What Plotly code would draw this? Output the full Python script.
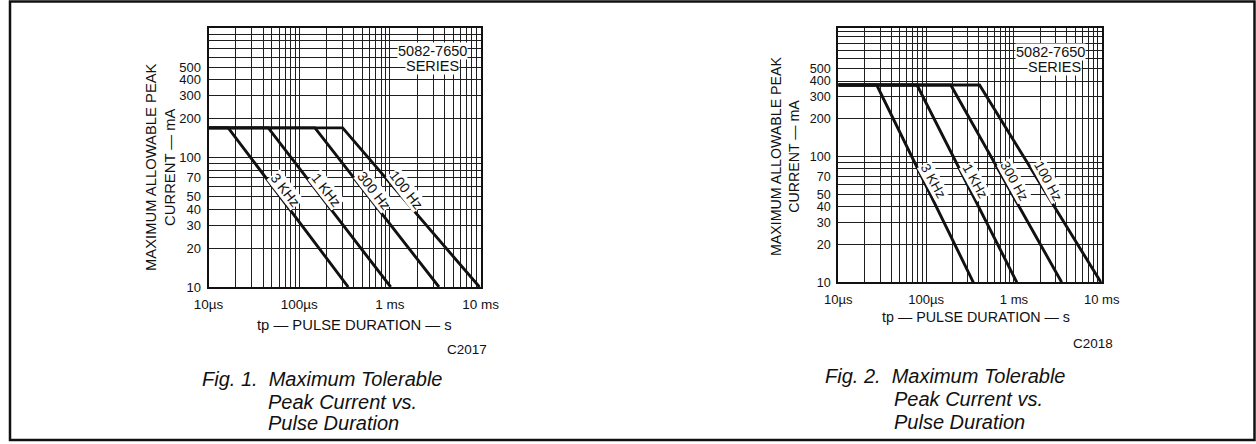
import math
import plotly.graph_objects as go

# ---------------- data ----------------
# pulse duration in microseconds, peak current in mA
series_names = ["3 KHz", "1 KHz", "300 Hz", "100 Hz"]

fig1_level = 170.0
fig1_corner_us = [16.5, 45.6, 149.0, 301.0]
fig1_end_us = [347.0, 1019.0, 3470.0, 9700.0]

fig2_level = 372.0
fig2_corner_us = [27.4, 78.8, 191.0, 406.0]
fig2_end_us = [345.0, 1080.0, 3500.0, 9800.0]

start_us = 10.0
floor_ma = 10.0

x_grid = [m * 10 ** d for d in (1, 2, 3) for m in range(1, 10)] + [10000]
x_labels = {10: "10µs", 100: "100µs", 1000: "1 ms", 10000: "10 ms"}
y_grid = [m * 10 ** d for d in (1, 2) for m in range(1, 10)] + [1000]
y_labels = [10, 20, 30, 40, 50, 70, 100, 200, 300, 400, 500]

W, H = 1256, 444
FONT = "Liberation Sans, Arial, Helvetica, sans-serif"
INK = "#111111"


def px(x):
    return x / W


def py(y):
    return 1 - y / H


fig = go.Figure()

charts = [
    dict(xa="x", ya="y", level=fig1_level, corners=fig1_corner_us, ends=fig1_end_us,
         xdom=[208.5, 480.7], ydom=[287.0, 28.3], yr=[1, 3.0], angle=52, lab_level=56,
         shift=10, scale=1.0),
    dict(xa="x2", ya="y2", level=fig2_level, corners=fig2_corner_us, ends=fig2_end_us,
         xdom=[838.3, 1101.7], ydom=[282.3, 28.3], yr=[1, 3.022], angle=61, lab_level=64,
         shift=10, scale=0.97),
]

annotations = []
for ci, c in enumerate(charts):
    for name, corner, end in zip(series_names, c["corners"], c["ends"]):
        fig.add_trace(go.Scatter(
            x=[start_us, corner, end], y=[c["level"], c["level"], floor_ma],
            mode="lines", line=dict(color=INK, width=2.9), xaxis=c["xa"], yaxis=c["ya"],
            showlegend=False, hoverinfo="skip", name=name))
        # label position on the sloped segment
        lc, le = math.log10(corner), math.log10(end)
        f = (math.log10(c["level"]) - math.log10(c["lab_level"])) / (math.log10(c["level"]) - math.log10(floor_ma))
        xl = lc + f * (le - lc)
        annotations.append(dict(
            x=xl, y=math.log10(c["lab_level"]), xref=c["xa"], yref=c["ya"], text=name,
            showarrow=False, textangle=c["angle"], xshift=c["shift"],
            font=dict(family=FONT, size=14 * c["scale"], color=INK),
            bgcolor="white", borderpad=0))

axis_common = dict(type="log", showline=True, mirror=True, linecolor=INK, linewidth=2,
                   showgrid=True, gridcolor="#1e1e1e", gridwidth=1.1, ticks="",
                   zeroline=False, tickmode="array", automargin=False)

layout_axes = {}
for ci, c in enumerate(charts):
    sfx = "" if ci == 0 else "2"
    layout_axes["xaxis" + sfx] = dict(
        axis_common, domain=[px(c["xdom"][0]), px(c["xdom"][1])], range=[1, 4],
        anchor=c["ya"], tickvals=x_grid,
        ticktext=[x_labels.get(v, "") for v in x_grid],
        tickfont=dict(family=FONT, size=13.5 * c["scale"], color=INK), ticklabelstandoff=4)
    layout_axes["yaxis" + sfx] = dict(
        axis_common, domain=[py(c["ydom"][0]), py(c["ydom"][1])], range=c["yr"],
        anchor=c["xa"], tickvals=y_grid,
        ticktext=[str(v) if v in y_labels else "" for v in y_grid],
        tickfont=dict(family=FONT, size=13 * c["scale"], color=INK), ticklabelstandoff=3)

# texts around the charts
texts = [
    # (text, x, y, size, anchor, italic, angle)
    ("MAXIMUM ALLOWABLE PEAK<br>CURRENT — mA", 160, 167, 14.8, "center", False, -90),
    ("MAXIMUM ALLOWABLE PEAK<br>CURRENT — mA", 785, 157, 14.2, "center", False, -90),
    ("tp — PULSE DURATION — s", 354, 325, 14.8, "center", False, 0),
    ("tp — PULSE DURATION — s", 976, 317, 14.3, "center", False, 0),
    ("C2017", 489, 349, 13.5, "right", False, 0),
    ("C2018", 1115, 343, 13.5, "right", False, 0),
    ("Fig. 1.  Maximum Tolerable", 200, 379, 20, "left", True, 0),
    ("Peak Current vs.", 266, 401.5, 20, "left", True, 0),
    ("Pulse Duration", 266, 422.5, 20, "left", True, 0),
    ("Fig. 2.  Maximum Tolerable", 823, 376, 20, "left", True, 0),
    ("Peak Current vs.", 892, 398.5, 20, "left", True, 0),
    ("Pulse Duration", 892, 421.5, 20, "left", True, 0),
]
for t, x, y, s, anc, it, ang in texts:
    annotations.append(dict(
        text=t, x=px(x), y=py(y), xref="paper", yref="paper", showarrow=False,
        xanchor=anc, yanchor="middle", textangle=ang,
        font=dict(family=FONT, size=s, color=INK, style="italic" if it else "normal")))

# series boxes
for t, x, y in [("5082-7650", 432.5, 51.5), ("SERIES", 432, 66),
                ("5082-7650", 1050, 52.5), ("SERIES", 1054, 67.5)]:
    annotations.append(dict(
        text=t, x=px(x), y=py(y), xref="paper", yref="paper", showarrow=False,
        xanchor="center", yanchor="middle", bgcolor="white", borderpad=0,
        font=dict(family=FONT, size=14.5, color=INK)))

fig.update_layout(
    width=W, height=H, margin=dict(l=0, r=0, t=0, b=0, pad=0, autoexpand=False),
    paper_bgcolor="white", plot_bgcolor="white", showlegend=False,
    annotations=annotations,
    shapes=[dict(type="rect", xref="paper", yref="paper", x0=px(10), x1=px(1254.5),
                 y0=py(440), y1=py(1.5), line=dict(color=INK, width=2.5))],
    **layout_axes)

fig.write_html("out.html", config={"responsive": False, "displayModeBar": False},
               post_script="document.body.style.margin='0';document.body.style.overflow='hidden';")
